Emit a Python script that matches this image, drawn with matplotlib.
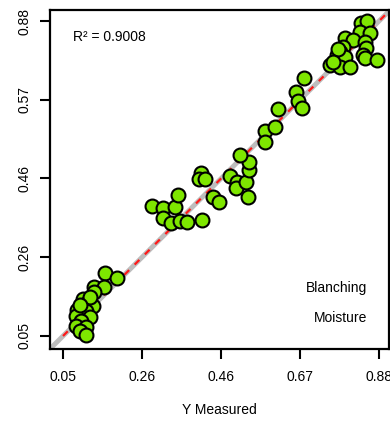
import matplotlib
matplotlib.use("Agg")
import matplotlib.pyplot as plt
import numpy as np

plt.rcParams['font.family'] = ['Liberation Sans', 'DejaVu Sans']

# Data (measured vs predicted moisture)
measured = [0.160, 0.192, 0.131, 0.158, 0.131, 0.103, 0.113, 0.129, 0.087, 0.110,
            0.084, 0.121, 0.097, 0.084, 0.110, 0.095, 0.110, 0.121, 0.095,
            0.284, 0.313, 0.344, 0.352, 0.313, 0.334, 0.357, 0.376, 0.415,
            0.413, 0.407, 0.423, 0.444, 0.460, 0.489, 0.507, 0.504, 0.531, 0.536,
            0.539, 0.539, 0.515, 0.581, 0.607, 0.581, 0.615, 0.662, 0.667, 0.678, 0.683,
            0.833, 0.849, 0.830, 0.856, 0.791, 0.812, 0.843, 0.786, 0.846, 0.778,
            0.770, 0.791, 0.838, 0.843, 0.875, 0.751, 0.778, 0.804, 0.772, 0.759]
predicted = [0.216, 0.203, 0.179, 0.179, 0.166, 0.147, 0.137, 0.129, 0.119, 0.116,
             0.103, 0.100, 0.090, 0.076, 0.074, 0.063, 0.053, 0.153, 0.132,
             0.393, 0.387, 0.390, 0.422, 0.361, 0.348, 0.353, 0.350, 0.356,
             0.480, 0.464, 0.464, 0.416, 0.403, 0.472, 0.456, 0.440, 0.456, 0.416,
             0.487, 0.508, 0.527, 0.590, 0.601, 0.561, 0.648, 0.693, 0.669, 0.651, 0.730,
             0.875, 0.880, 0.851, 0.848, 0.835, 0.830, 0.825, 0.812, 0.809, 0.798,
             0.790, 0.785, 0.790, 0.783, 0.777, 0.764, 0.759, 0.759, 0.806, 0.772]
tick_values = [0.05, 0.2575, 0.465, 0.6725, 0.88]
x_tick_labels = ["0.05", "0.26", "0.46", "0.67", "0.88"]
y_tick_labels = ["0.05", "0.26", "0.46", "0.57", "0.88"]
r2_text = "R² = 0.9008"
label_top = "Blanching"
label_bottom = "Moisture"

fig = plt.figure(figsize=(3.9, 4.29), dpi=100)
ax = fig.add_axes([50/390, 80/429, 339/390, 339/429])

lo, hi = 0.0158, 0.906
ax.set_xlim(lo, hi)
ax.set_ylim(0.0157, 0.909)

ax.plot([lo, 0.91], [lo, 0.91], color='#bdbdbd', lw=3.5, zorder=1, solid_capstyle='butt')
ax.plot([0.05, 0.91], [0.05, 0.91], color='#ff1a1a', lw=1.6, ls=(0, (3, 3.5)), zorder=2)

ax.scatter(measured, predicted, s=100, c='#7ee600', edgecolors='black', linewidths=1.5, zorder=3)

ax.set_xticks(tick_values)
ax.set_xticklabels(x_tick_labels)
ax.set_yticks(tick_values)
ax.set_yticklabels(y_tick_labels, rotation=90, va='center')
ax.tick_params(direction='out', length=7, width=1.5, labelsize=10, pad=8, color='black')
ax.tick_params(axis='y', pad=6)
for s in ax.spines.values():
    s.set_linewidth(1.6)

ax.set_xlabel("Y Measured", fontsize=10, labelpad=14)

ax.text(0.068, 0.92, r2_text, transform=ax.transAxes, fontsize=10, va='center', ha='left')
ax.text(0.935, 0.18, label_top, transform=ax.transAxes, fontsize=10, va='center', ha='right')
ax.text(0.935, 0.091, label_bottom, transform=ax.transAxes, fontsize=10, va='center', ha='right')

fig.savefig("out.png", dpi=100)
